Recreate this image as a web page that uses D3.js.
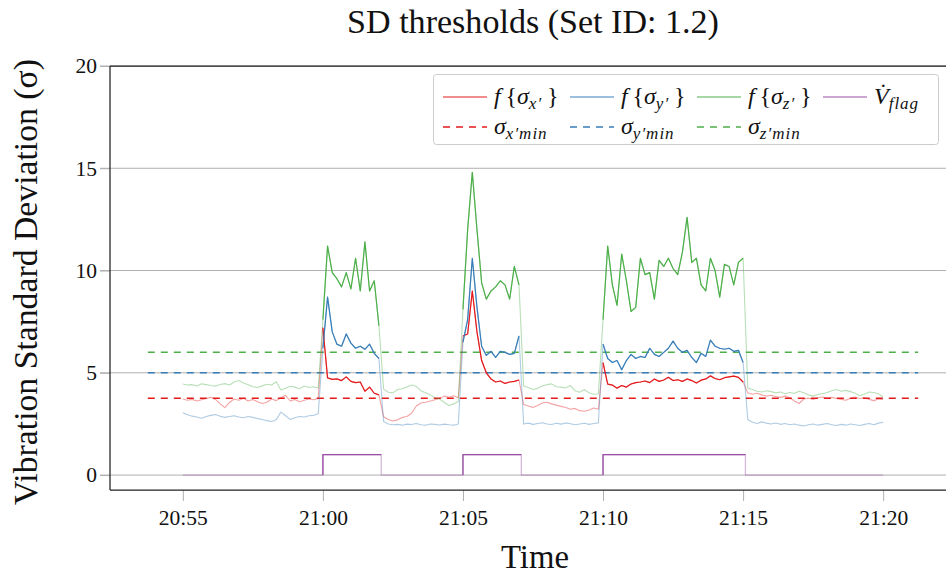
<!DOCTYPE html>
<html><head><meta charset="utf-8">
<script src="https://cdn.jsdelivr.net/npm/d3@7"></script>
<style>body{margin:0;background:#fff}svg{display:block}</style>
</head><body>
<svg id="chart" width="946" height="574"></svg>
<script>
// ---------------- data ----------------
const titleText = "SD thresholds (Set ID: 1.2)";
const xLabelText = "Time";
const yLabelText = "Vibration Standard Deviation (σ)";
const startTime = "20:55:00";
const stepSeconds = 10;

const sigmaX = [
  3.72,3.66,3.70,3.62,3.68,3.74,3.80,3.70,3.48,3.30,3.55,3.72,3.66,3.76,3.62,3.70,3.58,3.50,3.56,3.72,3.64,3.78,3.90,3.62,3.70,3.58,3.66,3.72,3.68,3.75,
  7.2,4.75,4.68,4.70,4.62,4.80,4.58,4.52,4.55,4.10,4.30,4.00,3.92,
  2.85,2.72,2.64,2.70,2.82,2.86,3.02,3.38,3.52,3.56,3.62,3.68,3.74,3.86,3.80,3.88,3.78,
  6.8,6.9,9.0,7.0,5.6,5.0,4.70,4.55,4.60,4.48,4.55,4.58,4.65,
  3.45,3.38,3.30,3.40,3.52,3.56,3.48,3.42,3.36,3.30,3.22,3.26,3.15,3.12,3.18,3.28,3.22,
  5.5,4.45,4.40,4.25,4.38,4.30,4.45,4.52,4.55,4.60,4.52,4.70,4.58,4.65,4.78,4.62,4.66,4.58,4.70,4.62,4.50,4.64,4.70,4.85,4.72,4.66,4.76,4.80,4.84,4.78,4.55,
  4.02,3.95,4.00,3.92,3.86,3.90,3.84,3.80,3.86,3.78,3.62,3.50,3.72,3.76,3.70,3.78,3.82,3.76,3.80,3.74,3.70,3.66,3.76,3.82,3.74,3.78,3.70,3.64,3.72,3.68
];
const sigmaY = [
  3.05,2.95,2.88,2.84,2.78,2.86,2.92,2.96,2.88,2.82,2.86,2.90,2.84,2.80,2.86,2.82,2.76,2.72,2.66,2.62,2.70,3.08,2.90,2.72,2.80,2.86,2.84,2.90,2.92,3.00,
  6.2,8.7,7.0,6.4,6.3,6.9,6.45,6.2,6.3,6.15,6.4,5.95,5.7,
  2.62,2.50,2.46,2.48,2.44,2.49,2.47,2.52,2.46,2.44,2.50,2.48,2.45,2.49,2.46,2.44,2.50,
  6.5,7.6,10.6,8.2,6.3,5.85,6.05,5.75,6.05,6.0,5.9,5.95,6.8,
  2.50,2.54,2.48,2.52,2.56,2.50,2.47,2.53,2.49,2.55,2.51,2.46,2.50,2.53,2.48,2.52,2.55,
  6.4,5.7,5.5,5.6,5.15,5.6,5.9,5.7,5.8,5.75,6.2,5.9,5.8,6.0,6.2,6.55,6.2,6.0,6.1,5.75,5.5,5.95,5.8,6.6,6.3,6.2,6.15,6.2,6.05,6.1,5.5,
  2.72,2.58,2.52,2.60,2.54,2.50,2.55,2.48,2.52,2.46,2.50,2.44,2.40,2.46,2.50,2.44,2.48,2.52,2.46,2.42,2.48,2.44,2.50,2.46,2.42,2.48,2.52,2.46,2.54,2.58
];
const sigmaZ = [
  4.45,4.40,4.42,4.36,4.46,4.42,4.38,4.35,4.43,4.47,4.40,4.55,4.62,4.50,4.42,4.32,4.28,4.36,4.44,4.40,4.56,4.16,4.25,4.34,4.30,4.22,4.35,4.28,4.32,4.26,
  7.6,11.2,9.9,9.6,9.2,9.9,9.1,10.6,9.0,11.4,9.0,9.5,7.3,
  4.20,4.05,4.02,4.18,4.22,4.30,4.40,4.34,4.12,4.02,3.92,3.78,3.72,3.55,3.40,3.48,3.60,
  8.1,12.0,14.8,12.0,9.4,8.6,9.0,9.2,9.5,9.3,8.6,10.2,9.3,
  4.35,4.28,4.18,4.24,4.36,4.42,4.46,4.32,4.30,4.26,4.38,4.12,4.05,4.18,4.02,3.95,3.96,
  7.6,11.2,9.3,8.3,10.8,9.5,8.0,8.2,10.6,9.8,9.9,8.6,10.5,10.2,10.6,10.1,9.8,10.9,12.6,10.4,10.6,9.3,9.0,10.6,10.0,8.7,10.3,10.2,9.3,10.4,10.6,
  4.25,4.18,4.10,4.06,4.12,4.08,4.02,4.06,3.98,4.04,4.00,4.10,4.02,3.92,3.86,3.94,3.98,4.04,4.12,4.18,4.10,4.14,4.08,4.00,3.88,3.96,4.06,4.04,3.98,3.82
];
const flagTimes  = ["20:55:00","21:00:00","21:02:05","21:05:00","21:07:05","21:10:00","21:15:05","21:20:00"];
const flagValues = [0,1,0,1,0,1,0,0];
const thresholdValues = [3.75, 5.0, 6.0];
const yTickValues = [0, 5, 10, 15, 20];
const xTickLabels = ["20:55","21:00","21:05","21:10","21:15","21:20"];
const xDomainLabels = ["20:52:24","21:22:36"];
const thresholdSpan = ["20:53:45","21:21:15"];
const yDomain = [-0.73, 20];

// ---------------- chart ----------------
const colors = {x:"#e41a1c", y:"#377eb8", z:"#4daf4a", flag:"#984ea3"};
const SERIF = "'Liberation Serif','DejaVu Serif',serif";
const svg = d3.select("#chart");
const M = {left:110, right:956, top:66, bottom:490};

const parseT = d3.timeParse("%H:%M:%S");
const t0 = parseT(startTime);
const times = sigmaX.map((_, i) => d3.timeSecond.offset(t0, i * stepSeconds));
const x = d3.scaleTime().domain(xDomainLabels.map(parseT)).range([M.left, M.right]);
const y = d3.scaleLinear().domain(yDomain).range([M.bottom, M.top]);

const fT = flagTimes.map(parseT);
const intervals = [];
flagValues.forEach((v, i) => { if (v === 1 && i + 1 < fT.length) intervals.push([fT[i], fT[i+1]]); });
const isActive = t => intervals.some(([a,b]) => t >= a && t < b);

// grid lines
svg.append("g").selectAll("line").data(yTickValues).join("line")
  .attr("x1", M.left - 10).attr("x2", 946)
  .attr("y1", d => y(d)).attr("y2", d => y(d))
  .attr("stroke", "#b0b0b0").attr("stroke-width", 1);

// y axis labels
const yAxis = svg.append("g").attr("transform", `translate(${M.left},0)`)
  .call(d3.axisLeft(y).tickValues(yTickValues).tickSize(10).tickPadding(3));
yAxis.select(".domain").remove();
yAxis.selectAll("line").attr("stroke", "#b0b0b0");
yAxis.selectAll("text").attr("font-family", SERIF).attr("font-size", 21.5).attr("fill", "#111");

// x axis
const xAxis = svg.append("g").attr("transform", `translate(0,${M.bottom})`)
  .call(d3.axisBottom(x).tickValues(xTickLabels.map(s => parseT(s + ":00")))
    .tickFormat(d3.timeFormat("%H:%M")).tickSize(11).tickPadding(9));
xAxis.select(".domain").remove();
xAxis.selectAll("line").attr("stroke", "#b0b0b0");
xAxis.selectAll("text").attr("font-family", SERIF).attr("font-size", 21.5).attr("fill", "#111");

// thresholds
const span = thresholdSpan.map(parseT);
const thrColors = [colors.x, colors.y, colors.z];
svg.append("g").selectAll("line").data(thresholdValues).join("line")
  .attr("x1", x(span[0])).attr("x2", x(span[1]))
  .attr("y1", d => y(d)).attr("y2", d => y(d))
  .attr("stroke", (d, i) => thrColors[i]).attr("stroke-width", 1.5)
  .attr("stroke-dasharray", "7,6");

// series
const series = [
  {vals: sigmaX, c: colors.x},
  {vals: sigmaY, c: colors.y},
  {vals: sigmaZ, c: colors.z}
];
const lineAll = d3.line().x((d, i) => x(times[i])).y(d => y(d));
const lineAct = d3.line().defined((d, i) => isActive(times[i])).x((d, i) => x(times[i])).y(d => y(d));
const gLines = svg.append("g").attr("fill", "none").attr("stroke-linejoin", "round");
series.forEach(s => {
  gLines.append("path").attr("d", lineAll(s.vals)).attr("stroke", s.c).attr("stroke-opacity", 0.4).attr("stroke-width", 1.1);
});
series.forEach(s => {
  gLines.append("path").attr("d", lineAct(s.vals)).attr("stroke", s.c).attr("stroke-width", 1.2);
});

// flag
const flagPts = fT.map((t, i) => [t, flagValues[i]]);
gLines.append("path")
  .attr("d", d3.line().curve(d3.curveStepAfter).x(d => x(d[0])).y(d => y(d[1]))(flagPts))
  .attr("stroke", colors.flag).attr("stroke-opacity", 0.4).attr("stroke-width", 1.3);
intervals.forEach(([a, b]) => {
  gLines.append("path")
    .attr("d", d3.line().x(d => x(d[0])).y(d => y(d[1]))([[a,0],[a,1],[b,1]]))
    .attr("stroke", colors.flag).attr("stroke-width", 1.3);
});

// spines
const spine = svg.append("g").attr("stroke", "#222").attr("stroke-width", 1.25);
spine.append("line").attr("x1", M.left).attr("x2", M.left).attr("y1", M.top).attr("y2", M.bottom);
spine.append("line").attr("x1", M.left).attr("x2", 946).attr("y1", M.bottom).attr("y2", M.bottom);
spine.append("line").attr("x1", M.left).attr("x2", 946).attr("y1", M.top).attr("y2", M.top);

// titles
function fitText(sel, target) {
  const w = sel.node().getComputedTextLength();
  const fs = +sel.attr("font-size");
  sel.attr("font-size", fs * target / w);
}
const title = svg.append("text").attr("x", 533).attr("y", 33).attr("text-anchor", "middle")
  .attr("font-family", SERIF).attr("font-size", 26).attr("fill", "#111").text(titleText);
fitText(title, 372);
const xl = svg.append("text").attr("x", 535).attr("y", 568).attr("text-anchor", "middle")
  .attr("font-family", SERIF).attr("font-size", 28).attr("fill", "#111").text(xLabelText);
fitText(xl, 68);
const yl = svg.append("text").attr("transform", "translate(37,282) rotate(-90)").attr("text-anchor", "middle")
  .attr("font-family", SERIF).attr("font-size", 28).attr("fill", "#111").text(yLabelText);
fitText(yl, 446);

// legend
const lg = svg.append("g");
lg.append("rect").attr("x", 433.5).attr("y", 74.5).attr("width", 505).attr("height", 70)
  .attr("rx", 3).attr("fill", "#fff").attr("stroke", "#cccccc").attr("stroke-width", 1);

function mathLabel(g, xx, yy, parts) {
  const t = g.append("text").attr("x", xx).attr("y", yy).attr("font-family", SERIF)
    .attr("font-size", 24).attr("fill", "#111");
  let shifted = 0;
  parts.forEach(p => {
    const ts = t.append("tspan").text(p.t).attr("font-style", p.i ? "italic" : "normal");
    const want = p.sub ? 5 : 0;
    if (want !== shifted) { ts.attr("dy", want - shifted); shifted = want; }
    if (p.sub) ts.attr("font-size", 17).attr("letter-spacing", 1);
  });
  return t;
}
const legendItems = [
  {c: colors.x, dash: false, lx: 443, ty: 97, parts: [{t:"f",i:1},{t:"\u2009{",i:0},{t:"σ",i:1},{t:"x′",i:1,sub:1},{t:"\u2009}",i:0}]},
  {c: colors.y, dash: false, lx: 570, ty: 97, parts: [{t:"f",i:1},{t:"\u2009{",i:0},{t:"σ",i:1},{t:"y′",i:1,sub:1},{t:"\u2009}",i:0}]},
  {c: colors.z, dash: false, lx: 697, ty: 97, parts: [{t:"f",i:1},{t:"\u2009{",i:0},{t:"σ",i:1},{t:"z′",i:1,sub:1},{t:"\u2009}",i:0}]},
  {c: colors.flag, dash: false, lx: 823, ty: 97, parts: [{t:"V\u0307",i:1},{t:"flag",i:1,sub:1}]},
  {c: colors.x, dash: true, lx: 443, ty: 127, parts: [{t:"σ",i:1},{t:"x′min",i:1,sub:1}]},
  {c: colors.y, dash: true, lx: 570, ty: 127, parts: [{t:"σ",i:1},{t:"y′min",i:1,sub:1}]},
  {c: colors.z, dash: true, lx: 697, ty: 127, parts: [{t:"σ",i:1},{t:"z′min",i:1,sub:1}]}
];
legendItems.forEach(it => {
  lg.append("line").attr("x1", it.lx).attr("x2", it.lx + 44).attr("y1", it.ty).attr("y2", it.ty)
    .attr("stroke", it.c).attr("stroke-width", it.dash ? 1.5 : 1)
    .attr("stroke-dasharray", it.dash ? "7,6" : null);
  mathLabel(lg, it.lx + 51, it.ty + 7, it.parts);
});
</script>
</body></html>
